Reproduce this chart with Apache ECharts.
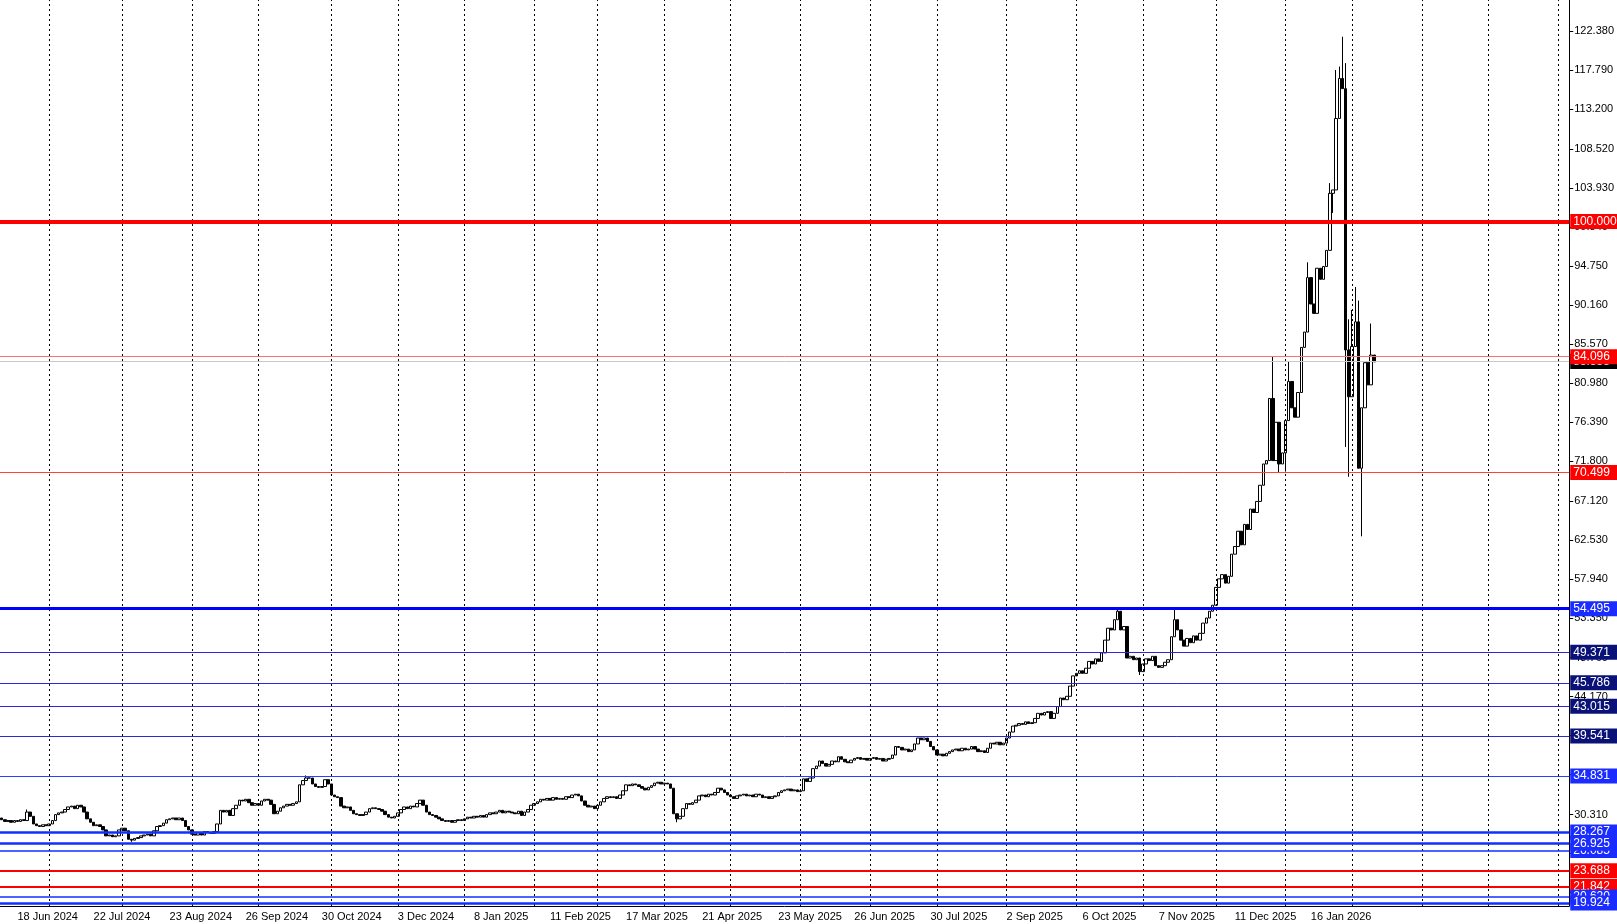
<!DOCTYPE html>
<html>
<head>
<meta charset="utf-8">
<script src="https://cdn.jsdelivr.net/npm/echarts@6/dist/echarts.min.js"></script>
<style>
  html, body { margin: 0; padding: 0; background: #fff; }
  #chart { width: 1617px; height: 924px; }
</style>
</head>
<body>
<div id="chart"></div>
<script>
// daily closes, bar 0 = 11 Jun 2024
const closes = [
  29.7,29.5,29.6,29.4,29.6,29.5,29.7,29.6,30.6,30.1,
  29.2,29.0,28.9,29.1,29.0,29.2,29.6,30.3,30.5,30.6,
  30.9,31.2,31.3,31.0,31.4,31.2,30.6,29.8,29.4,29.0,
  29.1,28.9,28.5,27.8,27.9,27.7,27.8,28.5,28.7,28.4,
  27.4,27.3,27.5,27.6,27.8,27.9,28.0,27.8,28.4,28.9,
  29.0,29.3,29.7,29.8,29.9,29.7,29.9,29.6,28.9,28.5,
  28.0,27.9,28.2,27.9,28.3,28.2,28.1,28.3,29.2,30.8,
  30.6,30.8,30.2,31.0,31.4,32.0,31.9,32.1,31.7,31.4,
  31.6,31.4,31.9,32.1,32.0,31.5,30.4,30.7,31.1,31.3,
  31.5,31.4,31.6,31.8,33.8,34.3,34.6,34.6,33.9,33.6,
  33.5,33.6,34.4,33.9,32.6,32.4,32.3,31.3,31.1,31.2,
  30.8,30.4,30.3,30.2,30.3,30.6,31.0,31.1,31.0,30.9,
  30.7,30.3,30.0,29.9,30.1,30.5,30.9,31.2,31.0,31.3,
  31.2,31.6,32.0,31.4,30.6,30.3,30.2,30.0,29.8,29.6,
  29.5,29.6,29.4,29.6,29.7,29.6,29.8,30.0,29.9,30.1,
  30.0,30.2,30.0,30.3,30.5,30.4,30.6,30.8,30.5,30.7,
  30.6,30.5,30.4,30.7,30.2,30.6,30.9,31.4,31.6,31.8,
  32.1,32.0,32.2,32.0,32.3,32.1,32.2,32.1,32.4,32.3,
  32.6,32.7,32.5,31.9,31.4,31.2,31.3,31.0,31.4,31.8,
  32.2,32.4,32.3,32.4,32.2,32.6,33.1,33.8,33.7,33.9,
  33.8,33.6,33.4,33.2,33.5,33.7,34.0,34.1,33.9,34.0,
  33.9,33.4,30.4,29.8,30.1,31.0,31.6,31.5,31.7,32.0,
  32.5,32.6,32.4,32.7,32.6,32.9,33.4,33.2,32.9,32.6,
  32.4,32.2,32.5,32.6,32.7,32.5,32.6,32.4,32.7,32.6,
  32.3,32.4,32.2,32.4,32.5,32.9,33.1,33.2,33.3,33.1,
  33.2,33.0,33.1,34.5,34.2,34.6,35.7,36.0,36.6,36.3,
  36.0,36.2,36.6,36.5,37.1,36.8,36.5,36.4,36.7,36.9,
  37.0,36.8,36.9,36.7,36.9,37.0,36.8,36.9,36.6,36.8,
  36.9,37.3,38.3,38.2,37.9,38.0,37.7,37.9,38.6,39.3,
  39.1,39.3,38.9,38.3,37.9,37.3,37.4,37.2,37.5,37.7,
  37.9,38.0,37.8,38.1,37.9,38.0,38.3,38.0,37.7,37.8,
  37.6,38.1,38.7,38.6,38.8,38.5,38.7,39.3,40.0,40.7,
  40.8,41.0,40.9,41.2,41.0,41.1,41.6,42.2,42.0,42.3,
  42.4,41.6,42.2,43.0,44.0,43.8,44.2,45.4,46.6,46.9,
  47.2,46.9,47.5,48.3,48.0,48.6,48.3,49.3,50.8,52.2,
  52.0,53.2,54.2,52.0,52.4,48.7,48.9,48.5,48.7,47.1,
  48.0,48.6,48.4,48.9,47.8,47.6,47.8,48.2,48.5,51.2,
  53.2,52.0,50.8,50.1,51.0,50.5,51.3,50.8,51.6,52.8,
  53.4,54.2,54.9,57.0,58.0,58.5,57.5,58.3,60.9,61.8,
  63.6,62.0,64.4,63.8,66.2,65.8,67.1,69.0,71.5,71.9,
  79.2,71.9,76.4,71.5,72.8,76.6,81.2,78.1,77.0,79.9,
  85.2,87.0,93.4,90.3,89.2,94.5,93.2,94.7,96.6,103.3,
  103.7,112.1,116.8,115.6,84.9,79.4,85.3,88.2,71.0,78.1,
  83.4,80.8,84.3,83.5
];
const firstOpen = 29.9;

// wick extremes (bar index -> price)
const highs = {
  8: 30.9, 96: 34.9, 352: 54.5, 370: 54.4, 401: 84.1, 406: 83.5,
  412: 95.2, 419: 104.5, 421: 117.8, 422: 118.2, 423: 121.7, 424: 118.6,
  425: 88.5, 426: 89.6, 427: 92.3, 428: 90.7, 432: 88.0
};
const lows = {
  41: 27.1, 213: 29.4, 359: 46.7, 403: 70.5, 405: 70.6, 420: 101.0,
  424: 73.5, 425: 70.0, 429: 63.0
};

const totalBars = 495;
const tickLabels = [
  '18 Jun 2024', '22 Jul 2024', '23 Aug 2024', '26 Sep 2024', '30 Oct 2024', '3 Dec 2024',
  '8 Jan 2025', '11 Feb 2025', '17 Mar 2025', '21 Apr 2025', '23 May 2025', '26 Jun 2025',
  '30 Jul 2025', '2 Sep 2025', '6 Oct 2025', '7 Nov 2025', '11 Dec 2025', '16 Jan 2026'
];
const firstLabelBar = 5;
const labelStep = 24;
const gridBars = [15, 38, 60, 81, 104, 125, 146, 168, 188, 209, 230, 252, 274, 295, 317, 339, 360, 383, 405, 426, 448, 469, 491];

const priceTicks = [122.38, 117.79, 113.2, 108.52, 103.93, 99.34, 94.75, 90.16, 85.57, 80.98,
  76.39, 71.8, 67.12, 62.53, 57.94, 53.35, 48.76, 44.17, 39.58, 34.99, 30.31, 25.72, 21.13];

// horizontal levels: [price, line colour, width, label background]
const levels = [
  [83.535, '#c8c8c8', 1, '#000000'],
  [100.0, '#ff0000', 4, '#ff0000'],
  [84.096, '#ff7070', 1, '#ff0000'],
  [70.499, '#ff4040', 1, '#ff0000'],
  [54.495, '#0000ff', 3, '#1a2cff'],
  [49.371, '#2a2ad8', 1, '#0a1278'],
  [45.786, '#2a2ad8', 1, '#0a1278'],
  [43.015, '#2a2ad8', 1, '#0a1278'],
  [39.541, '#2a2ad8', 1, '#0a1278'],
  [34.831, '#2a40ff', 1, '#1a2cff'],
  [28.267, '#1030ff', 2.5, '#1a2cff'],
  [26.085, '#1030ff', 1.5, '#1a2cff'],
  [26.925, '#1030ff', 2.5, '#1a2cff'],
  [23.688, '#ff0000', 2, '#ff0000'],
  [21.842, '#ff0000', 2, '#ff0000'],
  [20.62, '#1030ff', 1.5, '#1a2cff'],
  [19.924, '#1030ff', 2.5, '#1a2cff']
];

const cats = [];
for (let i = 0; i < totalBars; i++) cats.push(String(i));

const candles = closes.map(function (c, i) {
  const o = i === 0 ? firstOpen : closes[i - 1];
  const h = Math.max(o, c, highs[i] || 0);
  const l = Math.min(o, c, lows[i] || 1e9);
  return [o, c, l, h];
});

const font = 'Liberation Sans';
const chart = echarts.init(document.getElementById('chart'));

chart.setOption({
  animation: false,
  backgroundColor: '#ffffff',
  grid: { left: 0, right: 38, top: 0, bottom: 18 },
  xAxis: {
    type: 'category',
    data: cats,
    boundaryGap: true,
    axisLine: { show: true, lineStyle: { color: '#000', width: 1 } },
    axisTick: { show: false },
    splitLine: { show: false },
    axisLabel: {
      interval: function (idx) {
        return idx >= firstLabelBar && (idx - firstLabelBar) % labelStep === 0 &&
          (idx - firstLabelBar) / labelStep < tickLabels.length;
      },
      formatter: function (v) {
        return tickLabels[(Number(v) - firstLabelBar) / labelStep];
      },
      align: 'left',
      margin: 5,
      color: '#000',
      fontFamily: font,
      fontSize: 11
    }
  },
  yAxis: {
    type: 'value',
    position: 'right',
    min: 19.56,
    max: 126.02,
    scale: true,
    axisLine: { show: true, lineStyle: { color: '#000', width: 1 } },
    axisTick: { show: true, length: 4, customValues: priceTicks, lineStyle: { color: '#000' } },
    splitLine: { show: false },
    axisLabel: {
      customValues: priceTicks,
      formatter: function (v) { return v.toFixed(3); },
      color: '#000',
      fontFamily: font,
      fontSize: 11,
      margin: 5
    }
  },
  series: [
    {
      type: 'candlestick',
      data: candles,
      barWidth: 3,
      itemStyle: {
        color: '#ffffff',
        color0: '#000000',
        borderColor: '#000000',
        borderColor0: '#000000',
        borderWidth: 1
      },
      markLine: {
        silent: true,
        symbol: 'none',
        animation: false,
        data: gridBars.map(function (b) {
          return {
            xAxis: b,
            lineStyle: { color: '#000', type: [2, 3], width: 1 },
            label: { show: false }
          };
        }).concat(levels.map(function (lv) {
          return {
            yAxis: lv[0],
            lineStyle: { color: lv[1], width: lv[2], type: 'solid' },
            label: {
              show: true,
              position: 'end',
              distance: 1,
              formatter: lv[0].toFixed(3),
              color: '#fff',
              backgroundColor: lv[3],
              padding: [2, 10, 1, 3],
              fontFamily: font,
              fontSize: 12
            }
          };
        }))
      }
    }
  ]
});
</script>
</body>
</html>
